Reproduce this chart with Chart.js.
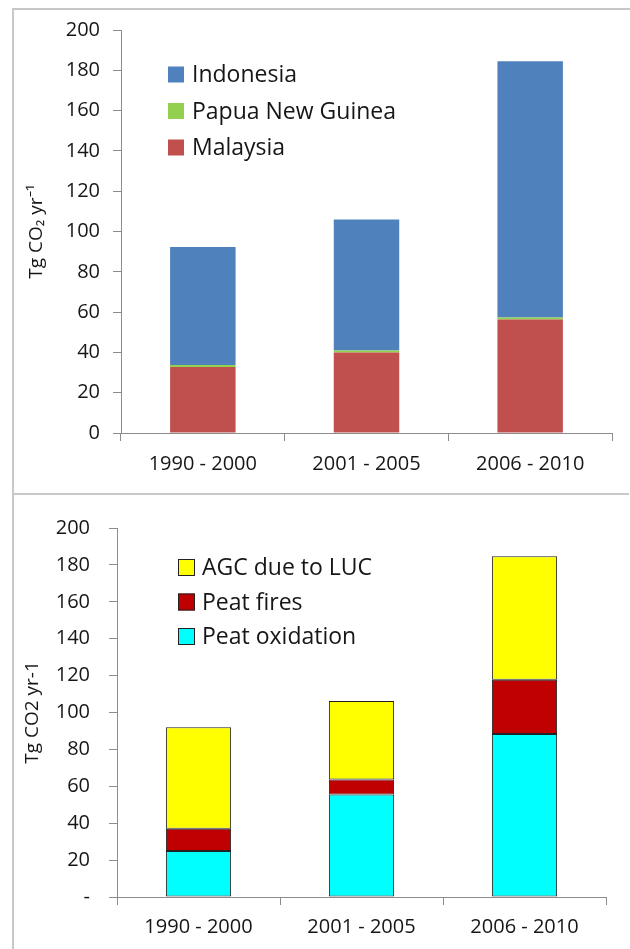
<!DOCTYPE html>
<html>
<head>
<meta charset="utf-8">
<script src="https://cdn.jsdelivr.net/npm/chart.js@4"></script>
<style>
    body { margin: 0; background: #fff; width: 630px; height: 949px; position: relative; overflow: hidden; }
    .line { position: absolute; background: #c8c8c8; }
    canvas { position: absolute; }
</style>
</head>
<body>
<div class="line" style="left:12px;top:8px;width:618px;height:2px"></div>
<div class="line" style="left:12px;top:8px;width:2px;height:941px"></div>
<div class="line" style="left:12px;top:493px;width:617px;height:2px"></div>
<canvas id="topChart" width="616" height="483" style="left:14px;top:10px"></canvas>
<canvas id="bottomChart" width="616" height="454" style="left:14px;top:495px"></canvas>
<script>
// periods on the x axis
const periods = ["1990 - 2000", "2001 - 2005", "2006 - 2010"];

// top panel, by country (Tg CO2 per year)
const malaysia = [32.8, 40, 56.3];
const papuaNewGuinea = [1, 1, 1];
const indonesia = [58.5, 65, 127.2];

// bottom panel, by source
const peatOxidation = [25, 55.5, 88.3];
const peatFires = [12, 8.2, 29.4];
const agcDueToLuc = [55, 42.5, 67];

const yTicks = [0, 20, 40, 60, 80, 100, 120, 140, 160, 180, 200];

const FONT = "'Open Sans', 'Noto Sans', sans-serif";
const AXIS_GREY = "#8c8c8c";
const TEXT = "#161616";

// legend drawn inside the plot, top entry = last dataset
const boxLegend = {
    id: "boxLegend",
    afterDraw(chart, args, opts) {
        const ctx = chart.ctx;
        const sets = chart.data.datasets.slice().reverse();
        ctx.save();
        ctx.font = opts.font;
        ctx.textBaseline = "middle";
        sets.forEach((ds, i) => {
            const y = opts.y + i * opts.gap;
            ctx.fillStyle = ds.backgroundColor;
            ctx.fillRect(opts.x, y - opts.box / 2, opts.box, opts.box);
            if (ds.borderWidth) {
                ctx.strokeStyle = ds.borderColor;
                ctx.lineWidth = 1;
                ctx.strokeRect(opts.x + 0.5, y - opts.box / 2 + 0.5, opts.box - 1, opts.box - 1);
            }
            ctx.fillStyle = TEXT;
            ctx.fillText(ds.label, opts.textX, y + 1);
        });
        ctx.restore();
    },
};

function makeOptions(cfg) {
    return {
        responsive: false,
        animation: false,
        layout: { padding: { left: 0, top: cfg.padTop, right: cfg.padRight, bottom: 0 } },
        plugins: {
            legend: { display: false },
            tooltip: { enabled: false },
            boxLegend: cfg.legend,
        },
        scales: {
            x: {
                stacked: true,
                afterFit: (s) => { s.height = cfg.xHeight; },
                border: { color: AXIS_GREY, width: 1 },
                grid: { offset: true, drawOnChartArea: false, tickLength: 8, color: AXIS_GREY },
                ticks: { color: TEXT, padding: cfg.xPad, font: { family: FONT, size: 20 } },
            },
            y: {
                stacked: true,
                min: 0,
                max: 200,
                afterFit: (s) => {
                    s.width = cfg.yWidth;
                    // keep the plot top where the layout padding puts it
                    s.paddingTop = 0;
                    s.paddingBottom = 0;
                },
                afterBuildTicks: (s) => { s.ticks = yTicks.map((v) => ({ value: v })); },
                border: { color: AXIS_GREY, width: 1 },
                grid: { drawOnChartArea: false, tickLength: 8, color: AXIS_GREY },
                ticks: {
                    color: TEXT,
                    padding: cfg.yPad,
                    font: { family: FONT, size: 20 },
                    callback: cfg.tickFormat,
                },
                title: {
                    display: true,
                    text: cfg.yTitle,
                    color: TEXT,
                    padding: { top: cfg.titlePad, bottom: 0 },
                    font: { family: FONT, size: 19 },
                },
            },
        },
    };
}

new Chart(document.getElementById("topChart"), {
    type: "bar",
    data: {
        labels: periods,
        datasets: [
            { label: "Malaysia", data: malaysia, backgroundColor: "#c0504d", barPercentage: 0.4, categoryPercentage: 1 },
            { label: "Papua New Guinea", data: papuaNewGuinea, backgroundColor: "#92d050", barPercentage: 0.4, categoryPercentage: 1 },
            { label: "Indonesia", data: indonesia, backgroundColor: "#4f81bd", barPercentage: 0.4, categoryPercentage: 1 },
        ],
    },
    options: makeOptions({
        padTop: 20, padRight: 18, xHeight: 60, yWidth: 107, xPad: 11, yPad: 13, titlePad: 11,
        yTitle: "Tg CO₂ yr⁻¹",
        tickFormat: (v) => String(v),
        legend: { x: 154, y: 64.5, gap: 36.5, box: 16, textX: 178, font: "23px " + FONT },
    }),
    plugins: [boxLegend],
});

new Chart(document.getElementById("bottomChart"), {
    type: "bar",
    data: {
        labels: periods,
        datasets: [
            { label: "Peat oxidation", data: peatOxidation, backgroundColor: "#00ffff", borderColor: "#222", borderWidth: 1, borderSkipped: false, barPercentage: 0.4, categoryPercentage: 1 },
            { label: "Peat fires", data: peatFires, backgroundColor: "#c00000", borderColor: "#222", borderWidth: 1, borderSkipped: false, barPercentage: 0.4, categoryPercentage: 1 },
            { label: "AGC due to LUC", data: agcDueToLuc, backgroundColor: "#ffff00", borderColor: "#222", borderWidth: 1, borderSkipped: false, barPercentage: 0.4, categoryPercentage: 1 },
        ],
    },
    options: makeOptions({
        padTop: 33, padRight: 24, xHeight: 52, yWidth: 103, xPad: 10, yPad: 19, titlePad: 7,
        yTitle: "Tg CO2 yr-1",
        tickFormat: (v) => (v === 0 ? "-" : String(v)),
        legend: { x: 164, y: 72.5, gap: 34.5, box: 17, textX: 188, font: "23px " + FONT },
    }),
    plugins: [boxLegend],
});
</script>
</body>
</html>
